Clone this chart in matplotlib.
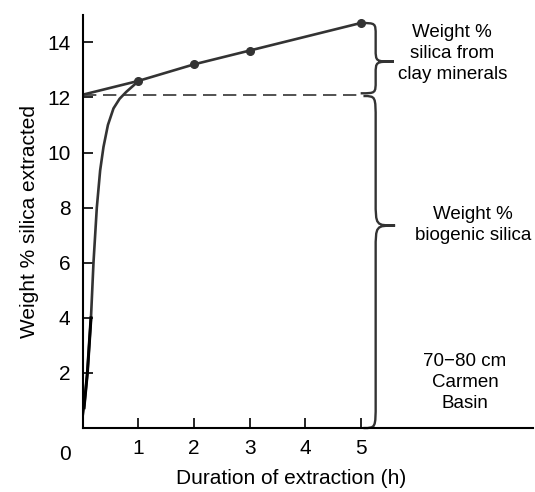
import numpy as np
import matplotlib.pyplot as plt
from matplotlib.path import Path
from matplotlib.patches import PathPatch

plt.rcParams['font.family'] = ['Liberation Sans', 'DejaVu Sans']

# measured points (h, wt %)
hours = [1, 2, 3, 5]
silica = [12.6, 13.2, 13.7, 14.7]
intercept = 12.1

# dissolution curve
curve_h = [0.0, 0.02, 0.08, 0.145, 0.19, 0.25, 0.31, 0.37, 0.45, 0.55, 0.66, 0.78, 0.92, 1.0]
curve_w = [0.5, 0.74, 2.0, 4.0, 6.0, 8.0, 9.35, 10.2, 11.0, 11.6, 11.95, 12.2, 12.45, 12.6]

xticks = [1, 2, 3, 4, 5]
yticks = [2, 4, 6, 8, 10, 12, 14]

line_col = '#333333'


def brace(ax, x0, ytop, ybot, xbody, xtip, ymid, d=0.35):
    # curly brace drawn with bezier pieces
    verts = [
        (x0, ytop),
        (xbody, ytop), (xbody, ytop), (xbody, ytop - d),
        (xbody, ymid + d),
        (xbody, ymid), (xbody, ymid), (xtip, ymid),
        (xbody, ymid), (xbody, ymid), (xbody, ymid - d),
        (xbody, ybot + d),
        (xbody, ybot), (xbody, ybot), (x0, ybot),
    ]
    codes = [Path.MOVETO,
             Path.CURVE4, Path.CURVE4, Path.CURVE4,
             Path.LINETO,
             Path.CURVE4, Path.CURVE4, Path.CURVE4,
             Path.CURVE4, Path.CURVE4, Path.CURVE4,
             Path.LINETO,
             Path.CURVE4, Path.CURVE4, Path.CURVE4]
    ax.add_patch(PathPatch(Path(verts, codes), fill=False, lw=1.7,
                           color=line_col, clip_on=False))


fig = plt.figure(figsize=(5.35, 4.92), dpi=100)
ax = fig.add_axes([0.155, 0.13, 0.841, 0.84])

# regression line through the points back to t=0
ax.plot([0] + hours, [intercept] + silica, color=line_col, lw=1.9)
ax.plot(hours, silica, 'o', color=line_col, ms=5.5)
ax.plot([0, 5], [intercept, intercept], color=line_col, lw=1.2, ls=(0, (8, 4)))
ax.plot(curve_h, curve_w, color=line_col, lw=1.9)
ax.plot(curve_h[1:4], curve_w[1:4], color='black', lw=2.2)

brace(ax, 5.0, 14.7, 12.15, 5.27, 5.6, 13.3, d=0.45)
brace(ax, 5.05, 12.05, 0.0, 5.27, 5.62, 7.35, d=0.9)

ax.text(6.65, 13.6, 'Weight %\nsilica from\nclay minerals', ha='center', va='center',
        fontsize=13.5, linespacing=1.3)
ax.text(7.02, 7.38, 'Weight %\nbiogenic silica', ha='center', va='center',
        fontsize=13.5, linespacing=1.3)
ax.text(6.88, 1.64, '70\u221280 cm\nCarmen\nBasin', ha='center', va='center',
        fontsize=13.5, linespacing=1.3)

ax.set_xlim(0, 8.1)
ax.set_ylim(0, 15)
ax.set_xticks(xticks)
ax.set_yticks(yticks)
ax.tick_params(direction='in', length=7, width=1.2, labelsize=15, pad=9)
ax.tick_params(axis='x', pad=8)
ax.annotate('0', xy=(0, 0), xytext=(-13, -26), textcoords='offset points',
            ha='center', va='bottom', fontsize=15, annotation_clip=False)
for s in ['top', 'right']:
    ax.spines[s].set_visible(False)
for s in ['left', 'bottom']:
    ax.spines[s].set_linewidth(1.5)

ax.set_xlabel('Duration of extraction (h)', fontsize=15, labelpad=9)
ax.xaxis.set_label_coords(0.462, -0.1)
ax.set_ylabel('Weight % silica extracted', fontsize=15, labelpad=6)

fig.savefig('out.png', dpi=100)
